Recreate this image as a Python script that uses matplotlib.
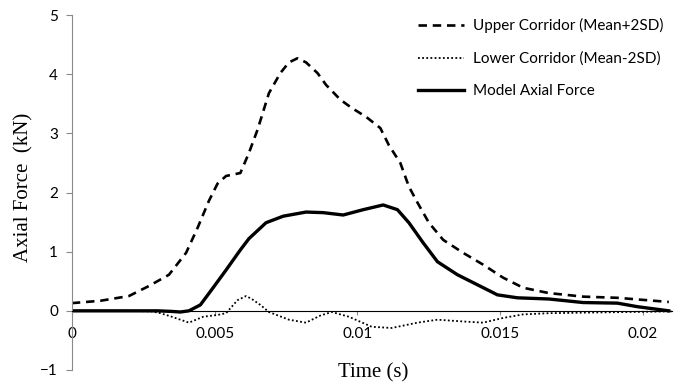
import numpy as np
import matplotlib
matplotlib.use("Agg")
import matplotlib.pyplot as plt

# data
t_upper = [0.0, 0.001, 0.002, 0.0027, 0.0034, 0.004, 0.0044, 0.0048, 0.0051, 0.0054,
           0.0059, 0.0062, 0.0065, 0.0069, 0.0073, 0.0076, 0.0079, 0.0082, 0.0086,
           0.0089, 0.0094, 0.0098, 0.0103, 0.0108, 0.0111, 0.0115, 0.0118, 0.0121,
           0.0125, 0.013, 0.0137, 0.0144, 0.0151, 0.0158, 0.0167, 0.0179, 0.0191, 0.0209]
f_upper = [0.13, 0.17, 0.25, 0.42, 0.61, 0.98, 1.4, 1.86, 2.15, 2.28,
           2.33, 2.67, 3.06, 3.68, 4.02, 4.2, 4.27, 4.2, 4.02,
           3.82, 3.57, 3.43, 3.28, 3.09, 2.8, 2.5, 2.1, 1.83,
           1.49, 1.2, 0.98, 0.78, 0.56, 0.39, 0.3, 0.24, 0.22, 0.15]

t_lower = [0.0, 0.001, 0.002, 0.0028, 0.0031, 0.0035, 0.0038, 0.0041, 0.0046, 0.0051,
           0.0054, 0.0058, 0.0061, 0.0063, 0.0066, 0.0069, 0.0076, 0.0082, 0.0087,
           0.0091, 0.0097, 0.0105, 0.0112, 0.0121, 0.0128, 0.0137, 0.0144, 0.0151,
           0.0158, 0.0167, 0.018, 0.0195, 0.021]
f_lower = [0.0, 0.0, 0.0, -0.01, -0.04, -0.1, -0.15, -0.2, -0.1, -0.07,
           -0.04, 0.18, 0.25, 0.2, 0.1, -0.02, -0.15, -0.2, -0.08,
           -0.02, -0.1, -0.27, -0.29, -0.2, -0.15, -0.18, -0.2, -0.12,
           -0.06, -0.04, -0.03, -0.02, -0.01]

t_model = [0.0, 0.001, 0.002, 0.003, 0.0035, 0.0038, 0.0041, 0.0045, 0.0049, 0.0054,
           0.0059, 0.0062, 0.0068, 0.0074, 0.0082, 0.0088, 0.0095, 0.0102, 0.0109,
           0.0114, 0.0118, 0.0123, 0.0128, 0.0135, 0.0142, 0.0149, 0.0156, 0.0167,
           0.0179, 0.0191, 0.0198, 0.0209]
f_model = [0.0, 0.0, 0.0, 0.0, -0.01, -0.02, 0.0, 0.1, 0.36, 0.69,
           1.03, 1.22, 1.49, 1.6, 1.67, 1.66, 1.62, 1.71, 1.79,
           1.71, 1.49, 1.15, 0.83, 0.61, 0.44, 0.27, 0.22, 0.2,
           0.14, 0.13, 0.07, 0.0]

x_ticks = [0, 0.005, 0.01, 0.015, 0.02]
x_tick_labels = ["0", "0.005", "0.01", "0.015", "0.02"]
y_ticks = [-1, 0, 1, 2, 3, 4, 5]

plt.rcParams["font.family"] = ["Lato", "DejaVu Sans"]

fig = plt.figure(figsize=(6.84, 3.87), dpi=100)
ax = fig.add_axes([0.105, 0.044, 0.877, 0.917])

ax.plot(t_upper, f_upper, color="black", lw=1.9, dashes=(3.2, 2.2),
        label="Upper Corridor (Mean+2SD)")
ax.plot(t_lower, f_lower, color="black", lw=1.3, dashes=(1, 1.3),
        label="Lower Corridor (Mean-2SD)")
ax.plot(t_model, f_model, color="black", lw=2.4, label="Model Axial Force")

ax.set_xlim(0, 0.021)
ax.set_ylim(-1, 5)

ax.spines["top"].set_visible(False)
ax.spines["right"].set_visible(False)
ax.spines["left"].set_color("#8a8a8a")
ax.spines["bottom"].set_position(("data", 0))
ax.spines["bottom"].set_color("black")
ax.spines["bottom"].set_linewidth(0.8)

ax.set_xticks(x_ticks)
ax.set_xticklabels(x_tick_labels)
ax.set_yticks(y_ticks)
ax.tick_params(axis="x", direction="out", length=3, pad=9, labelsize=11, color="#8a8a8a")
ax.tick_params(axis="y", direction="out", length=4, pad=6, labelsize=11, color="#8a8a8a")

fig.text(0.545, 0.036, "Time (s)", family="Liberation Serif", fontsize=15,
         ha="center", va="center")
fig.text(0.035, 0.517, "Axial Force  (kN)", family="Liberation Serif", fontsize=15,
         ha="center", va="center", rotation=90)

ax.legend(loc="upper right", bbox_to_anchor=(1.01, 1.03), frameon=False,
          fontsize=11, handlelength=3.0, handletextpad=0.65, labelspacing=1.2)

fig.savefig("out.png", dpi=100)
